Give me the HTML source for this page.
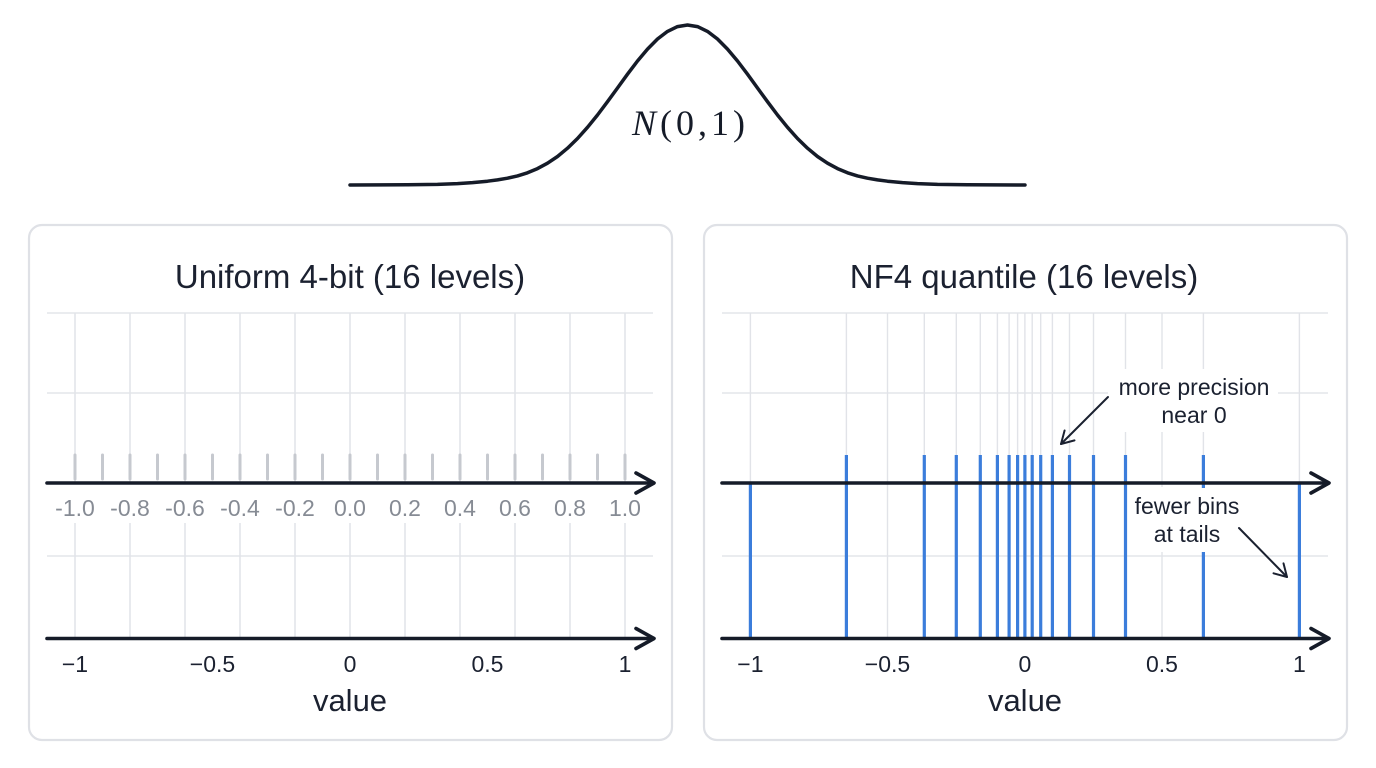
<!DOCTYPE html>
<html><head><meta charset="utf-8"><style>
html,body{margin:0;padding:0;background:#fff;}
svg{display:block;}
</style></head><body>
<svg width="1376" height="768" viewBox="0 0 1376 768" xmlns="http://www.w3.org/2000/svg" font-family="Liberation Sans, Arial, sans-serif">
<rect width="1376" height="768" fill="#fff"/>
<!-- Bell curve -->
<path d="M350,185 L407.5,184.8 L437.5,184.4 L457.5,183.6 L472.5,182.6 L487.5,181.2 L497.5,179.9 L507.5,178.2 L517.5,175.9 L527.5,172.8 L537.5,168.6 L547.5,163.2 L557.5,156.5 L567.5,148.2 L577.5,138.5 L587.5,127.3 L597.5,115 L607.5,101.7 L617.5,88 L627.5,74.2 L637.5,61 L647.5,49.1 L657.5,39 L667.5,31.4 L677.5,26.6 L687.5,25 L697.5,26.6 L707.5,31.4 L717.5,39 L727.5,49.1 L737.5,61 L747.5,74.2 L757.5,88 L767.5,101.7 L777.5,115 L787.5,127.3 L797.5,138.5 L807.5,148.2 L817.5,156.5 L827.5,163.2 L837.5,168.6 L847.5,172.8 L857.5,175.9 L867.5,178.2 L877.5,179.9 L887.5,181.2 L902.5,182.6 L917.5,183.6 L937.5,184.4 L967.5,184.8 L1025,185" fill="none" stroke="#151b28" stroke-width="3.5" stroke-linejoin="round" stroke-linecap="round"/>
<text x="632" y="135" font-size="36" fill="#151b28" font-family="Liberation Serif, serif" textLength="113" lengthAdjust="spacing"><tspan font-style="italic">N</tspan>(0,1)</text>

<!-- Panels -->
<rect x="29" y="225" width="643" height="515" rx="13" ry="13" fill="#fff" stroke="#dfe1e6" stroke-width="2.2"/>
<rect x="704" y="225" width="643" height="515" rx="13" ry="13" fill="#fff" stroke="#dfe1e6" stroke-width="2.2"/>

<text x="350" y="288" font-size="33" fill="#1b2130" text-anchor="middle">Uniform 4-bit (16 levels)</text>
<text x="1024" y="288" font-size="33" fill="#1b2130" text-anchor="middle">NF4 quantile (16 levels)</text>

<!-- LEFT PANEL GRID -->
<g stroke="#e4e6ea" stroke-width="1.5">
<line x1="47" y1="313" x2="653" y2="313"/>
<line x1="47" y1="393" x2="653" y2="393"/>
<line x1="47" y1="556" x2="653" y2="556"/>
</g>
<g stroke="#e1e3e8" stroke-width="1.5">
<line x1="75" y1="313" x2="75" y2="483"/><line x1="130" y1="313" x2="130" y2="483"/><line x1="185" y1="313" x2="185" y2="483"/><line x1="240" y1="313" x2="240" y2="483"/><line x1="295" y1="313" x2="295" y2="483"/><line x1="350" y1="313" x2="350" y2="483"/><line x1="405" y1="313" x2="405" y2="483"/><line x1="460" y1="313" x2="460" y2="483"/><line x1="515" y1="313" x2="515" y2="483"/><line x1="570" y1="313" x2="570" y2="483"/><line x1="625" y1="313" x2="625" y2="483"/>
<line x1="75" y1="523" x2="75" y2="638"/><line x1="130" y1="523" x2="130" y2="638"/><line x1="185" y1="523" x2="185" y2="638"/><line x1="240" y1="523" x2="240" y2="638"/><line x1="295" y1="523" x2="295" y2="638"/><line x1="350" y1="523" x2="350" y2="638"/><line x1="405" y1="523" x2="405" y2="638"/><line x1="460" y1="523" x2="460" y2="638"/><line x1="515" y1="523" x2="515" y2="638"/><line x1="570" y1="523" x2="570" y2="638"/><line x1="625" y1="523" x2="625" y2="638"/>
</g>
<!-- uniform ticks -->
<g stroke="#c6c9cf" stroke-width="3" stroke-linecap="round">
<line x1="75" y1="455" x2="75" y2="479"/><line x1="102.5" y1="455" x2="102.5" y2="479"/><line x1="130" y1="455" x2="130" y2="479"/><line x1="157.5" y1="455" x2="157.5" y2="479"/><line x1="185" y1="455" x2="185" y2="479"/><line x1="212.5" y1="455" x2="212.5" y2="479"/><line x1="240" y1="455" x2="240" y2="479"/><line x1="267.5" y1="455" x2="267.5" y2="479"/><line x1="295" y1="455" x2="295" y2="479"/><line x1="322.5" y1="455" x2="322.5" y2="479"/><line x1="350" y1="455" x2="350" y2="479"/><line x1="377.5" y1="455" x2="377.5" y2="479"/><line x1="405" y1="455" x2="405" y2="479"/><line x1="432.5" y1="455" x2="432.5" y2="479"/><line x1="460" y1="455" x2="460" y2="479"/><line x1="487.5" y1="455" x2="487.5" y2="479"/><line x1="515" y1="455" x2="515" y2="479"/><line x1="542.5" y1="455" x2="542.5" y2="479"/><line x1="570" y1="455" x2="570" y2="479"/><line x1="597.5" y1="455" x2="597.5" y2="479"/><line x1="625" y1="455" x2="625" y2="479"/>
</g>
<!-- left axes -->
<g stroke="#151b28" stroke-width="3.6" fill="none" stroke-linecap="round" stroke-linejoin="round">
<line x1="47" y1="483" x2="653" y2="483"/>
<polyline points="636,473 654,483 636,493"/>
<line x1="47" y1="638.5" x2="653" y2="638.5"/>
<polyline points="636,628.5 654,638.5 636,648.5"/>
</g>
<g font-size="23" fill="#868b94" text-anchor="middle">
<text x="75" y="516">-1.0</text><text x="130" y="516">-0.8</text><text x="185" y="516">-0.6</text><text x="240" y="516">-0.4</text><text x="295" y="516">-0.2</text><text x="350" y="516">0.0</text><text x="405" y="516">0.2</text><text x="460" y="516">0.4</text><text x="515" y="516">0.6</text><text x="570" y="516">0.8</text><text x="625" y="516">1.0</text>
</g>
<g font-size="23" fill="#1b2130" text-anchor="middle">
<text x="75" y="672">−1</text><text x="212.5" y="672">−0.5</text><text x="350" y="672">0</text><text x="487.5" y="672">0.5</text><text x="625" y="672">1</text>
</g>
<text x="350" y="711" font-size="31" fill="#1b2130" text-anchor="middle">value</text>

<!-- RIGHT PANEL GRID -->
<g stroke="#e4e6ea" stroke-width="1.5">
<line x1="722" y1="313" x2="1328" y2="313"/>
<line x1="722" y1="393" x2="1328" y2="393"/>
<line x1="722" y1="556" x2="1328" y2="556"/>
</g>
<g stroke="#e1e3e8" stroke-width="1.4">
<line x1="750.4" y1="313" x2="750.4" y2="483"/><line x1="846.4" y1="313" x2="846.4" y2="460"/><line x1="887.5" y1="313" x2="887.5" y2="638"/><line x1="924.3" y1="313" x2="924.3" y2="460"/><line x1="956.3" y1="313" x2="956.3" y2="460"/><line x1="980.3" y1="313" x2="980.3" y2="460"/><line x1="997.4" y1="313" x2="997.4" y2="460"/><line x1="1009.1" y1="313" x2="1009.1" y2="460"/><line x1="1017.6" y1="313" x2="1017.6" y2="460"/><line x1="1024.9" y1="313" x2="1024.9" y2="460"/><line x1="1032.2" y1="313" x2="1032.2" y2="460"/><line x1="1040.7" y1="313" x2="1040.7" y2="460"/><line x1="1052.4" y1="313" x2="1052.4" y2="460"/><line x1="1069.5" y1="313" x2="1069.5" y2="460"/><line x1="1093.5" y1="313" x2="1093.5" y2="460"/><line x1="1125.5" y1="313" x2="1125.5" y2="460"/><line x1="1162" y1="313" x2="1162" y2="638"/><line x1="1203.4" y1="313" x2="1203.4" y2="460"/><line x1="1299.4" y1="313" x2="1299.4" y2="483"/>
</g>
<!-- annotation backgrounds -->
<rect x="1108" y="369" width="170" height="63" fill="#fff"/>
<rect x="1128" y="487" width="122" height="65" fill="#fff"/>
<!-- blue NF4 lines -->
<g stroke="#3b7ddb" stroke-width="3.2">
<line x1="750.4" y1="483" x2="750.4" y2="638"/>
<line x1="846.4" y1="455" x2="846.4" y2="638"/>
<line x1="924.3" y1="455" x2="924.3" y2="638"/>
<line x1="956.3" y1="455" x2="956.3" y2="638"/>
<line x1="980.3" y1="455" x2="980.3" y2="638"/>
<line x1="997.4" y1="455" x2="997.4" y2="638"/>
<line x1="1009.1" y1="455" x2="1009.1" y2="638"/>
<line x1="1017.6" y1="455" x2="1017.6" y2="638"/>
<line x1="1024.9" y1="455" x2="1024.9" y2="638"/>
<line x1="1032.2" y1="455" x2="1032.2" y2="638"/>
<line x1="1040.7" y1="455" x2="1040.7" y2="638"/>
<line x1="1052.4" y1="455" x2="1052.4" y2="638"/>
<line x1="1069.5" y1="455" x2="1069.5" y2="638"/>
<line x1="1093.5" y1="455" x2="1093.5" y2="638"/>
<line x1="1125.5" y1="455" x2="1125.5" y2="638"/>
<line x1="1203.4" y1="455" x2="1203.4" y2="488"/>
<line x1="1203.4" y1="552" x2="1203.4" y2="638"/>
<line x1="1299.4" y1="483" x2="1299.4" y2="638"/>
</g>
<!-- right axes -->
<g stroke="#151b28" stroke-width="3.6" fill="none" stroke-linecap="round" stroke-linejoin="round">
<line x1="722" y1="483" x2="1328" y2="483"/>
<polyline points="1311,473 1329,483 1311,493"/>
<line x1="722" y1="638.5" x2="1328" y2="638.5"/>
<polyline points="1311,628.5 1329,638.5 1311,648.5"/>
</g>
<!-- annotations -->
<g font-size="23" fill="#1b2130" text-anchor="middle">
<text x="1194" y="395">more precision</text>
<text x="1194" y="423">near 0</text>
<text x="1187" y="514">fewer bins</text>
<text x="1187" y="542">at tails</text>
</g>
<g stroke="#1b2130" stroke-width="2" fill="none" stroke-linecap="round" stroke-linejoin="round">
<line x1="1108" y1="397" x2="1061" y2="444"/>
<polyline points="1074.5,440.4 1061,444 1064.6,430.5"/>
<line x1="1239" y1="528" x2="1287" y2="577"/>
<polyline points="1283.5,563.4 1287,577 1273.5,573.3"/>
</g>
<g font-size="23" fill="#1b2130" text-anchor="middle">
<text x="750.4" y="672">−1</text><text x="887.5" y="672">−0.5</text><text x="1024.9" y="672">0</text><text x="1162" y="672">0.5</text><text x="1299.4" y="672">1</text>
</g>
<text x="1025" y="711" font-size="31" fill="#1b2130" text-anchor="middle">value</text>
</svg>
</body></html>
